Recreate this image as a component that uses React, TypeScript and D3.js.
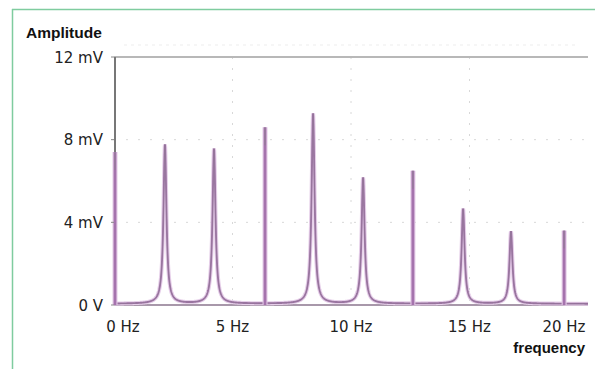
import React from "react";
import * as d3 from "d3";

const xTicks = [0, 5, 10, 15, 20];
const xTickLabels = ["0 Hz", "5 Hz", "10 Hz", "15 Hz", "20 Hz"];
const yTicks = [0, 4, 8, 12];
const yTickLabels = ["0 V", "4 mV", "8 mV", "12 mV"];

// broad (resonant) peaks
const broadFreq = [2.15, 4.22, 8.4, 10.51, 14.73, 16.75];
const broadAmp = [7.7, 7.5, 9.2, 6.1, 4.6, 3.5];
// sharp line peaks
const sharpFreq = [0, 6.33, 12.57, 18.95];
const sharpAmp = [7.4, 8.6, 6.5, 3.6];

const W = 595;
const H = 369;
const X0 = 114;
const X1 = 588;
const Y0 = 305;
const Y1 = 57;

export default function App() {
  const x = d3.scaleLinear().domain([0, 20]).range([X0, X1]);
  const y = d3.scaleLinear().domain([0, 12]).range([Y0, Y1]);
  const gamma = 0.075;

  const pts: [number, number][] = [];
  const xs: number[] = [];
  for (let f = 0; f <= 20.0001; f += 0.01) xs.push(f);
  broadFreq.forEach((f) => xs.push(f));
  xs.sort((a, b) => a - b);
  xs.forEach((f) => {
    let v = 0.06;
    broadFreq.forEach((c, i) => {
      const d = f - c;
      v += (broadAmp[i] * gamma * gamma) / (d * d + gamma * gamma);
    });
    pts.push([f, v]);
  });
  const line = d3
    .line<[number, number]>()
    .x((d) => x(d[0]))
    .y((d) => y(d[1]));
  const path = line(pts) || "";

  const labelX = (v: number) => Math.min(Math.max(x(v), 123), 564);

  return (
    <svg width={W} height={H} style={{ position: "absolute", left: 0, top: 0 }}>
      <rect x={0} y={0} width={W} height={H} fill="#fff" />
      {/* frame */}
      <line x1={12} y1={9.5} x2={W} y2={9.5} stroke="#7fcc9f" strokeWidth={1.5} />
      <line x1={12.5} y1={9} x2={12.5} y2={H} stroke="#7fcc9f" strokeWidth={1.5} />

      {/* grid */}
      {[4, 8].map((v) => (
        <line key={"gy" + v} x1={X0} x2={X1} y1={y(v)} y2={y(v)} stroke="#d8d8d8" strokeWidth={1} strokeDasharray="2 10" />
      ))}
      {[5, 10, 15].map((v) => (
        <line key={"gx" + v} x1={x(v)} x2={x(v)} y1={Y1} y2={Y0} stroke="#d8d8d8" strokeWidth={1} strokeDasharray="2 9" />
      ))}
      {/* top border */}
      <line x1={X0} x2={X1} y1={Y1} y2={Y1} stroke="#b8b8b8" strokeWidth={2} />
      <line x1={X0 + 10} x2={X1 - 10} y1={Y1 - 12} y2={Y1 - 12} stroke="#ededed" strokeWidth={1} strokeDasharray="3 4" />

      {/* baseline */}
      <line x1={X0} x2={X1} y1={Y0} y2={Y0} stroke="#a898aa" strokeWidth={2} />

      {/* broad curve */}
      <path d={path} fill="none" stroke="#e6cfe9" strokeWidth={4} />
      <path d={path} fill="none" stroke="#a27aa9" strokeWidth={1.9} />
      <path d={path} fill="none" stroke="#7d6a80" strokeWidth={0.6} opacity={0.6} />

      {/* sharp lines */}
      {sharpFreq.map((f, i) => (
        <g key={"s" + i}>
          <line x1={x(f) + 1} x2={x(f) + 1} y1={Y0} y2={y(sharpAmp[i])} stroke="#e3c9e6" strokeWidth={5} />
          <line x1={x(f) + 1} x2={x(f) + 1} y1={Y0} y2={y(sharpAmp[i])} stroke="#a573ad" strokeWidth={2.8} />
          <line x1={x(f) + 1} x2={x(f) + 1} y1={y(sharpAmp[i])} y2={y(sharpAmp[i]) + 18} stroke="#8c7f8e" strokeWidth={1.2} opacity={0.7} />
        </g>
      ))}

      {/* left axis */}
      <line x1={X0 + 1} x2={X0 + 1} y1={Y1} y2={y(7.4)} stroke="#777" strokeWidth={2} />
      {yTicks.map((v) => (
        <line key={"yt" + v} x1={X0 - 3} x2={X0} y1={y(v)} y2={y(v)} stroke="#888" strokeWidth={1} />
      ))}

      {/* y tick labels */}
      {yTicks.map((v, i) => (
        <text key={"yl" + v} x={103} y={y(v) + 5.5} textAnchor="end" fontFamily="DejaVu Sans, sans-serif" fontSize={15} fill="#222">
          {yTickLabels[i]}
        </text>
      ))}
      {/* x tick labels */}
      {xTicks.map((v, i) => (
        <text key={"xl" + v} x={labelX(v)} y={331.5} textAnchor="middle" fontFamily="DejaVu Sans, sans-serif" fontSize={15} fill="#222">
          {xTickLabels[i]}
        </text>
      ))}

      <text x={26} y={37.5} fontFamily="Liberation Sans, Arial, sans-serif" fontWeight="bold" fontSize={15.5} fill="#111">
        Amplitude
      </text>
      <text x={585} y={353} textAnchor="end" fontFamily="Liberation Sans, Arial, sans-serif" fontWeight="bold" fontSize={15} fill="#111">
        frequency
      </text>
    </svg>
  );
}
